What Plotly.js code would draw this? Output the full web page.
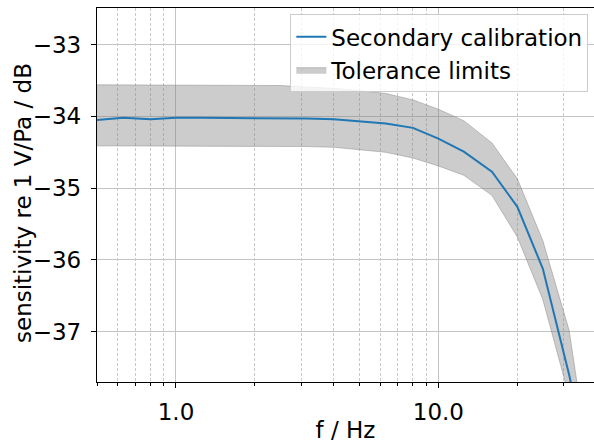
<!DOCTYPE html>
<html>
<head>
<meta charset="utf-8">
<script src="https://cdn.plot.ly/plotly-3.0.1.min.js"></script>
<style>html,body{margin:0;padding:0;background:#fff;}#chart{width:594px;height:443px;}</style>
</head>
<body>
<div id="chart"></div>
<script>
// third-octave frequencies (Hz)
const freq = [0.5, 0.63, 0.8, 1, 1.25, 1.6, 2, 2.5, 3.15, 4, 5, 6.3, 8, 10, 12.5, 16, 20, 25, 31.5, 40];
// secondary calibration sensitivity (dB re 1 V/Pa)
const sensitivity = [-34.05, -34.02, -34.04, -34.02, -34.02, -34.02, -34.02, -34.02, -34.03, -34.04, -34.07, -34.10, -34.16, -34.31, -34.49, -34.77, -35.26, -36.12, -37.60, -39.30];
// tolerance limits
const upperLimit = [-33.56, -33.56, -33.56, -33.56, -33.56, -33.56, -33.56, -33.57, -33.59, -33.61, -33.64, -33.68, -33.77, -33.90, -34.06, -34.37, -34.87, -35.73, -36.98, -39.50];
const lowerLimit = [-34.41, -34.41, -34.41, -34.41, -34.41, -34.41, -34.41, -34.41, -34.42, -34.43, -34.46, -34.50, -34.58, -34.69, -34.82, -35.10, -35.68, -36.55, -37.90, -40.50];

const xMajorTicks = [1, 10];
const xMajorLabels = ["1.0", "10.0"];
const xMinorTicks = [0.5, 0.6, 0.7, 0.8, 0.9, 2, 3, 4, 5, 6, 7, 8, 9, 20, 30, 40];
const yTicks = [-37, -36, -35, -34, -33];
const yLabels = ["\u221237", "\u221236", "\u221235", "\u221234", "\u221233"];

const FONT = "DejaVu Sans, sans-serif";
const FS = 23;

const traces = [
  {x: freq, y: lowerLimit, type: "scatter", mode: "lines",
   line: {color: "rgba(128,128,128,0.45)", width: 1}, showlegend: false, hoverinfo: "skip"},
  {x: freq, y: upperLimit, type: "scatter", mode: "lines", fill: "tonexty",
   fillcolor: "rgba(128,128,128,0.4)", line: {color: "rgba(128,128,128,0.45)", width: 1},
   name: "Tolerance limits", legendrank: 2},
  {x: freq, y: sensitivity, type: "scatter", mode: "lines",
   line: {color: "#1f77b4", width: 2}, name: "Secondary calibration", legendrank: 1}
];

const layout = {
  width: 594, height: 443,
  margin: {l: 97, r: 0, t: 8, b: 61},
  paper_bgcolor: "#ffffff", plot_bgcolor: "#ffffff",
  font: {family: FONT, size: FS, color: "#000"},
  showlegend: true,
  legend: {x: 0.389, y: 0.983, xanchor: "left", yanchor: "top", traceorder: "normal",
           bgcolor: "rgba(255,255,255,0.8)", bordercolor: "#cccccc", borderwidth: 1,
           font: {family: FONT, size: 23, color: "#000"}, tracegroupgap: 0},
  xaxis: {
    type: "log", range: [Math.log10(0.5), 1.5931], autorange: false,
    tickmode: "array", tickvals: xMajorTicks, ticktext: xMajorLabels,
    ticks: "outside", ticklen: 5, tickwidth: 1, tickcolor: "#000",
    ticklabelstandoff: 4,
    showgrid: true, gridcolor: "#c4c4c4", gridwidth: 1,
    minor: {tickmode: "array", tickvals: xMinorTicks, ticks: "outside", ticklen: 3, tickwidth: 1,
            tickcolor: "#000", showgrid: true, gridcolor: "#c8c8c8", gridwidth: 1, griddash: "3px,2px"},
    showline: true, linecolor: "#000", linewidth: 1.2, mirror: true,
    zeroline: false,
    title: {text: "f / Hz", font: {family: FONT, size: FS}, standoff: 6},
    automargin: false
  },
  yaxis: {
    range: [-37.70, -32.49], autorange: false,
    tickmode: "array", tickvals: yTicks, ticktext: yLabels,
    ticks: "outside", ticklen: 5, tickwidth: 1, tickcolor: "#000",
    ticklabelstandoff: 5,
    showgrid: true, gridcolor: "#c4c4c4", gridwidth: 1,
    showline: true, linecolor: "#000", linewidth: 1.2, mirror: true,
    zeroline: false,
    automargin: false
  },
  annotations: [
    {text: "sensitivity re 1 V/Pa / dB", xref: "paper", yref: "paper", x: 0, y: 0.5,
     xanchor: "center", yanchor: "middle", xshift: -74, yshift: -8, textangle: -90,
     showarrow: false, font: {family: FONT, size: 23, color: "#000"}}
  ]
};

Plotly.newPlot("chart", traces, layout, {staticPlot: true, displayModeBar: false});
</script>
</body>
</html>
